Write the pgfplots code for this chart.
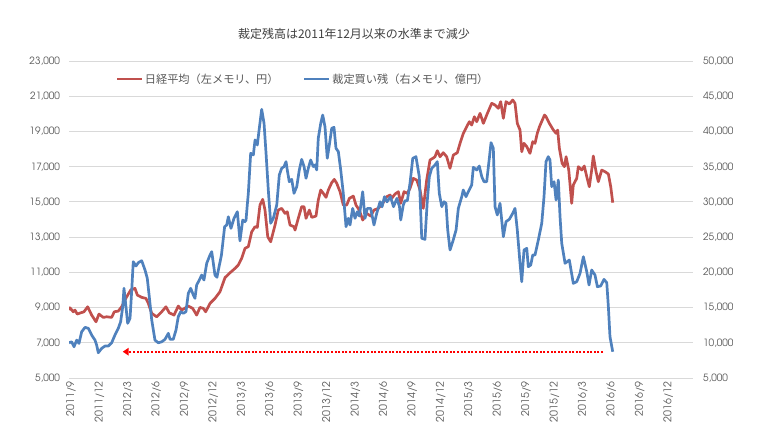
\documentclass[border=0pt]{standalone}
\usepackage{fontspec}
\usepackage{pgfplots}
\pgfplotsset{compat=1.18}
\usetikzlibrary{arrows.meta}
\setmainfont{Noto Sans CJK JP}
\newfontfamily\numfont{texgyreadventor-regular.otf}
\definecolor{nred}{HTML}{C0504D}
\definecolor{nblue}{HTML}{4F81BD}
\definecolor{gridg}{HTML}{D9D9D9}
\definecolor{txtg}{HTML}{595959}
\definecolor{titg}{HTML}{404040}
\begin{document}
\begin{tikzpicture}
\useasboundingbox (0pt,0pt) rectangle (760pt,445pt);
\node[font=\fontsize{12}{14}\selectfont, text=titg] at (354pt,411pt) {裁定残高は2011年12月以来の水準まで減少};
\begin{axis}[
  at={(69pt,67pt)}, anchor=south west,
  scale only axis, width=624pt, height=317pt,
  xmin=-0.21, xmax=65.63, ymin=5000, ymax=23000,
  ytick={5000,7000,...,23000},
  scaled y ticks=false,
  xtick={0,3,...,63},
  xticklabels={2011/9,2011/12,2012/3,2012/6,2012/9,2012/12,2013/3,2013/6,2013/9,2013/12,2014/3,2014/6,2014/9,2014/12,2015/3,2015/6,2015/9,2015/12,2016/3,2016/6,2016/9,2016/12},
  axis x line*=bottom, axis y line*=left,
  y axis line style={draw=none},
  x axis line style={color=gridg, line width=0.9pt},
  major tick length=0pt, tick style={draw=none},
  ymajorgrids, major grid style={color=gridg, line width=0.9pt},
  ticklabel style={font=\numfont\fontsize{10}{12}\selectfont, text=txtg},
  xticklabel style={rotate=90, anchor=east, font=\numfont\fontsize{10.6}{12}\selectfont},
  yticklabel style={xshift=-5.5pt},
  /pgf/number format/.cd, 1000 sep={,}, assume math mode=true,
]
\addplot[color=nred, line width=2.7pt, line join=round] coordinates {
(-0.21,8857)(-0.11,8987)(0.24,8760)(0.42,8857)(0.66,8630)(1.02,8700)(1.37,8760)(1.76,9044)(2.18,8573)(2.64,8193)(2.95,8630)(3.41,8442)(3.77,8476)(4.29,8442)(4.57,8760)(4.99,8800)(5.35,9044)(5.88,9612)(6.30,9993)(6.75,10090)(7.00,9710)(7.46,9578)(7.91,9520)(8.16,9237)(8.52,8669)(9.04,8476)(9.57,8760)(10.02,9044)(10.37,8703)(10.87,8573)(11.32,9084)(11.68,8857)(12.38,9084)(12.84,8953)(13.26,8573)(13.61,9010)(13.96,8953)(14.21,8760)(14.67,9237)(15.19,9520)(15.72,9898)(16.25,10700)(16.78,10975)(17.31,11225)(17.65,11413)(18.01,11793)(18.36,12362)(18.71,12457)(19.07,13305)(19.42,13590)(19.66,13553)(19.94,14820)(20.23,15145)(20.47,14537)(20.76,13020)(21.07,12736)(21.53,13685)(21.87,14537)(22.23,14633)(22.58,14350)(22.82,14440)(23.11,13685)(23.53,13590)(23.64,13400)(23.98,14065)(24.34,14727)(24.59,14727)(24.80,14065)(25.15,14537)(25.40,14120)(25.85,14195)(26.09,15100)(26.35,15673)(26.62,15485)(26.91,15258)(27.15,15673)(27.51,16090)(27.78,16280)(28.04,16053)(28.39,15578)(28.73,14820)(29.09,14820)(29.37,15200)(29.79,15330)(30.07,14820)(30.42,14537)(30.78,13970)(31.20,14350)(31.62,14195)(31.97,14537)(32.43,14633)(32.89,14917)(33.31,15290)(33.66,15390)(33.84,15200)(34.19,15445)(34.54,15578)(34.79,14917)(35.14,15578)(35.49,15485)(35.77,15770)(36.12,16337)(36.48,16240)(36.83,15673)(37.17,14633)(37.53,16240)(37.88,17377)(38.17,17473)(38.41,17565)(38.65,17905)(38.94,17565)(39.28,17792)(39.64,17565)(39.99,16905)(40.34,17660)(40.76,17792)(41.05,18325)(41.40,18893)(41.75,19270)(42.03,19553)(42.28,19365)(42.56,19835)(42.81,19553)(43.16,20030)(43.51,19460)(43.86,19930)(44.39,20598)(44.74,20500)(45.09,20315)(45.34,20690)(45.62,19745)(45.90,20690)(46.25,20558)(46.61,20785)(46.85,20598)(47.09,19460)(47.38,19080)(47.56,17850)(47.80,18325)(48.09,18135)(48.43,17757)(48.72,18418)(48.96,18325)(49.20,18893)(49.43,19270)(49.96,19930)(50.13,19835)(50.47,19460)(50.90,19080)(51.18,18893)(51.35,19080)(51.53,18040)(51.82,17190)(52.06,17000)(52.24,17565)(52.52,16810)(52.83,14917)(53.00,15960)(53.36,16337)(53.53,17000)(53.89,16810)(54.16,17036)(54.42,16430)(54.69,15860)(54.94,16810)(55.11,17604)(55.40,16715)(55.64,16145)(56.00,16810)(56.35,16715)(56.70,16582)(56.95,15860)(57.16,14955)
};
\end{axis}
\begin{axis}[
  at={(69pt,67pt)}, anchor=south west,
  scale only axis, width=624pt, height=317pt,
  xmin=-0.21, xmax=65.63, ymin=5000, ymax=50000,
  ytick={5000,10000,...,50000},
  scaled y ticks=false,
  axis x line=none, axis y line*=right,
  y axis line style={draw=none},
  major tick length=0pt, tick style={draw=none},
  ticklabel style={font=\numfont\fontsize{10}{12}\selectfont, text=txtg},
  yticklabel style={xshift=6.5pt},
  /pgf/number format/.cd, 1000 sep={,}, assume math mode=true,
  /pgfplots/.cd,
  legend columns=2,
  legend image code/.code={\draw[#1] (0pt,0pt) -- (25pt,0pt);},
  legend style={draw=none, fill=none, at={(0.0745,0.943)}, anchor=west,
    inner xsep=0pt, inner ysep=0pt, nodes={inner sep=1.5pt},
    font=\fontsize{11.2}{13}\selectfont, text=txtg,
    /tikz/every even column/.append style={column sep=23pt}},
]
\addlegendimage{color=nred, line width=2.7pt}
\addlegendentry{日経平均（左メモリ、円）}
\addplot[color=nblue, line width=2.7pt, line join=round] coordinates {
(-0.21,10000)(0.07,10142)(0.32,9432)(0.60,10380)(0.84,9905)(1.13,11570)(1.48,12190)(1.83,12050)(2.18,11100)(2.53,10380)(2.71,9670)(2.88,8590)(3.24,9210)(3.59,9540)(3.94,9540)(4.29,10000)(4.64,11100)(4.99,12050)(5.24,12990)(5.46,15120)(5.59,17730)(5.80,15120)(5.98,12760)(6.23,13470)(6.41,17500)(6.57,21510)(6.86,20900)(7.10,21370)(7.46,21650)(7.81,20330)(8.05,19150)(8.26,16540)(8.52,13230)(8.86,10380)(9.21,10000)(9.57,10140)(9.92,10490)(10.27,11340)(10.45,10490)(10.79,10490)(11.08,11810)(11.32,13700)(11.58,14410)(11.85,14180)(12.13,14410)(12.38,17020)(12.63,17730)(12.91,16780)(13.08,16310)(13.26,18200)(13.54,18910)(13.79,19620)(14.03,18910)(14.32,21280)(14.67,22460)(14.85,22930)(15.02,21280)(15.19,19620)(15.40,19300)(15.88,22500)(16.21,26480)(16.43,26710)(16.60,27890)(16.88,26240)(17.20,27670)(17.55,28610)(17.83,24470)(18.12,27430)(18.36,27190)(18.47,27430)(18.60,29550)(18.71,31210)(18.96,36900)(19.24,36660)(19.42,38790)(19.66,38080)(19.87,40450)(20.12,43140)(20.37,41150)(20.58,36900)(20.82,31690)(21.07,26960)(21.35,27670)(21.71,29560)(21.98,33820)(22.23,34770)(22.48,35010)(22.69,35710)(22.82,34530)(23.03,32870)(23.29,33200)(23.53,31220)(23.82,32160)(24.09,34530)(24.34,36040)(24.59,35010)(24.80,33350)(25.04,34770)(25.29,35950)(25.57,35010)(25.75,35240)(25.93,34530)(26.09,39020)(26.35,41150)(26.56,42330)(26.80,40670)(27.04,36190)(27.26,38080)(27.51,40450)(27.75,40590)(27.96,37610)(28.21,37130)(28.46,34530)(28.73,31220)(29.02,26480)(29.26,27670)(29.44,26720)(29.72,29080)(29.97,27670)(30.21,28610)(30.42,28000)(30.78,31450)(31.02,27670)(31.27,29080)(31.62,29080)(31.97,26720)(32.26,28380)(32.61,30020)(32.82,29300)(33.08,30740)(33.34,30000)(33.71,30740)(34.03,29320)(34.39,30500)(34.66,29320)(34.79,27430)(35.06,29560)(35.24,30170)(35.49,30170)(35.77,32640)(36.06,36190)(36.40,36420)(36.75,33580)(37.01,24830)(37.35,24680)(37.60,30270)(37.81,33580)(38.06,34770)(38.41,35240)(38.65,35710)(38.86,31220)(39.12,29320)(39.36,30020)(39.57,29800)(39.75,26010)(39.99,23170)(40.28,24350)(40.63,26010)(40.87,29080)(41.23,30740)(41.39,31690)(41.68,30740)(41.92,31450)(42.28,32400)(42.45,34910)(42.81,34530)(43.08,35090)(43.34,33580)(43.58,32870)(43.86,32870)(44.14,36190)(44.32,38410)(44.56,37610)(44.74,29320)(44.98,28140)(45.27,29800)(45.62,25060)(45.90,27190)(46.25,27530)(46.61,28380)(46.85,29080)(47.09,26010)(47.38,21280)(47.56,18670)(47.80,23170)(48.09,23410)(48.25,20800)(48.51,21040)(48.72,22460)(48.96,22460)(49.31,24590)(49.67,26960)(49.91,30740)(50.12,35710)(50.36,36420)(50.54,35950)(50.72,32160)(50.97,32870)(51.18,30270)(51.42,33100)(51.60,27890)(51.78,24120)(52.13,21280)(52.58,21750)(53.00,18440)(53.36,18670)(53.71,19850)(54.06,22220)(54.42,20090)(54.66,18200)(54.94,20330)(55.29,19620)(55.54,17960)(55.89,18060)(56.24,19000)(56.53,18530)(56.70,15120)(56.87,10860)(57.16,8730)
};
\addlegendentry{裁定買い残（右メモリ、億円）}
\draw[color=red, line width=2.2pt, dash pattern=on 2pt off 1.6pt, -{Triangle[length=6pt,width=7.5pt]}] (axis cs:56.14,8733) -- (axis cs:5.46,8733);
\end{axis}
\end{tikzpicture}
\end{document}
